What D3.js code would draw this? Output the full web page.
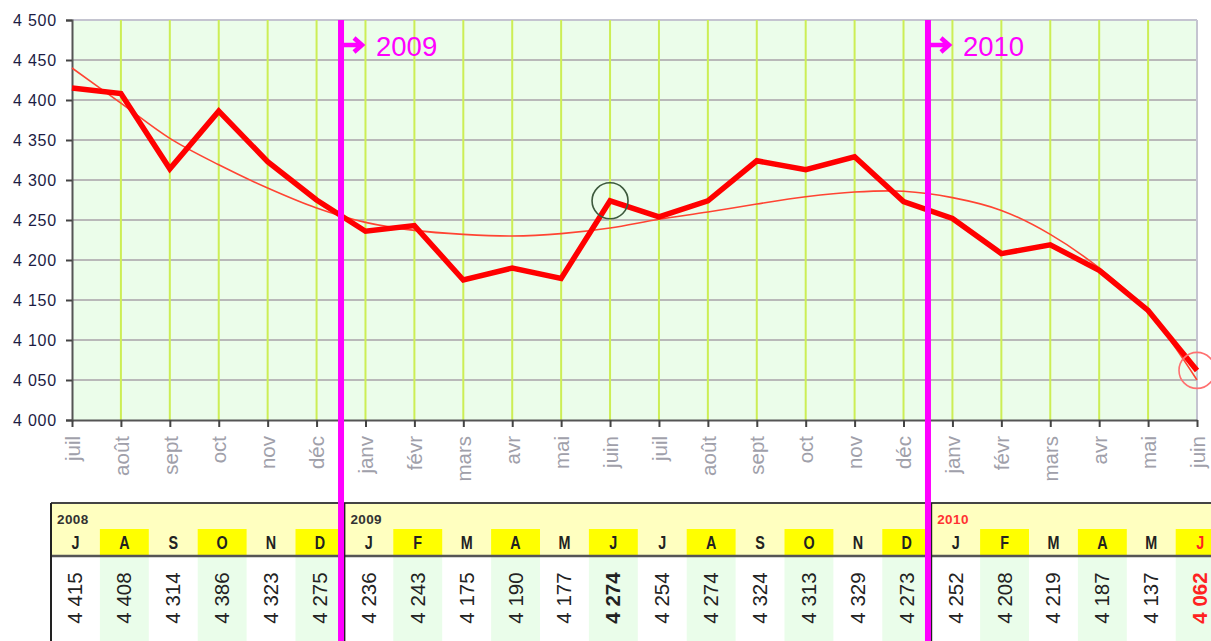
<!DOCTYPE html>
<html>
<head>
<meta charset="utf-8">
<script src="https://cdn.jsdelivr.net/npm/d3@7"></script>
<style>
  body { margin: 0; background: #fff; }
  svg { display: block; font-family: Arial, "Liberation Sans", sans-serif; }
</style>
</head>
<body>
<svg id="chart" width="1211" height="641"></svg>
<script>
// months shown on the x axis (juil 2008 -> juin 2010)
const months = ['juil','août','sept','oct','nov','déc','janv','févr','mars','avr','mai','juin',
                'juil','août','sept','oct','nov','déc','janv','févr','mars','avr','mai','juin'];
const letters = ['J','A','S','O','N','D','J','F','M','A','M','J',
                 'J','A','S','O','N','D','J','F','M','A','M','J'];
const values = [4415,4408,4314,4386,4323,4275,4236,4243,4175,4190,4177,4274,
                4254,4274,4324,4313,4329,4273,4252,4208,4219,4187,4137,4062];
// polynomial trend line
const trend = [4440,4396,4352,4319,4290,4265,4247,4237,4232,4230,4233,4240,
               4251,4260,4270,4279,4285,4286,4278,4262,4232,4190,4135,4050];
const years = ['2008','2009','2010'];
const yearStart = [0, 6, 18];
const yTicks = [4000,4050,4100,4150,4200,4250,4300,4350,4400,4450,4500];
const circled = [11, 23];

const svg = d3.select('#chart');
const fmt = d3.formatLocale({decimal: ',', thousands: ' ', grouping: [3], currency: ['', '']}).format(',d');

const x = d3.scaleLinear().domain([0, 23]).range([72, 1197]);
const y = d3.scaleLinear().domain([4000, 4500]).range([420, 20]);
const col = d3.scaleBand().domain(d3.range(24)).range([51, 51 + 24 * 48.9]);

// plot background
svg.append('rect').attr('x', 72).attr('y', 20).attr('width', 1197 - 72).attr('height', 400)
  .attr('fill', '#ebfdea');

// horizontal grid
svg.append('g').selectAll('line').data(yTicks.slice(1)).join('line')
  .attr('x1', 72).attr('x2', 1197).attr('y1', d => y(d)).attr('y2', d => y(d))
  .attr('stroke', d => d === 4500 ? '#c4c4d0' : '#b9b9b9').attr('stroke-width', 2);

// vertical grid
svg.append('g').selectAll('line').data(d3.range(1, 24)).join('line')
  .attr('x1', d => x(d)).attr('x2', d => x(d)).attr('y1', 20).attr('y2', 420)
  .attr('stroke', d => d === 23 ? '#c4c4d0' : '#ccee55').attr('stroke-width', 2);

// axes
const yAxis = svg.append('g').attr('transform', 'translate(72,0)')
  .call(d3.axisLeft(y).tickValues(yTicks).tickFormat(fmt).tickSize(6).tickPadding(9));
yAxis.select('.domain').attr('stroke', '#555').attr('stroke-width', 2);
yAxis.selectAll('.tick line').attr('stroke', '#444').attr('stroke-width', 2);
yAxis.selectAll('text').attr('font-size', 16).attr('letter-spacing', '0.8px')
  .attr('fill', '#1c1c44').attr('font-family', 'Arial, "Liberation Sans", sans-serif');

const xAxis = svg.append('g').attr('transform', 'translate(0,420)')
  .call(d3.axisBottom(x).tickValues(d3.range(24)).tickFormat(i => months[i]).tickSize(7).tickSizeOuter(0));
xAxis.select('.domain').attr('stroke', '#555').attr('stroke-width', 2);
xAxis.selectAll('.tick line').attr('stroke', '#444').attr('stroke-width', 2);
xAxis.selectAll('text')
  .attr('font-size', 20.5).attr('fill', '#a0a0aa').attr('font-family', 'Arial, "Liberation Sans", sans-serif')
  .attr('text-anchor', 'end').attr('dy', '0.35em')
  .attr('transform', 'translate(0,7) rotate(-90)').attr('x', -9).attr('y', 0);

// trend line
svg.append('path').datum(trend)
  .attr('fill', 'none').attr('stroke', '#ff4433').attr('stroke-width', 1.6)
  .attr('d', d3.line().x((d, i) => x(i)).y(d => y(d)).curve(d3.curveCatmullRom));

// data line
svg.append('path').datum(values)
  .attr('fill', 'none').attr('stroke', '#ff0000').attr('stroke-width', 5.5).attr('stroke-linejoin', 'miter')
  .attr('d', d3.line().x((d, i) => x(i)).y(d => y(d)));

// highlight circles
svg.append('g').selectAll('circle').data(circled).join('circle')
  .attr('cx', i => x(i)).attr('cy', i => y(values[i]))
  .attr('r', 18).attr('fill', 'none')
  .attr('stroke', i => i === 11 ? '#3d5a3d' : '#ff7070').attr('stroke-width', 1.6);

// ---- table ----
const table = svg.append('g');
const tTop = 503, tHead = 529, tRow = 556;
table.append('rect').attr('x', 51).attr('y', tTop).attr('width', 1211 - 51).attr('height', tRow - tTop)
  .attr('fill', '#ffffc0');
table.selectAll('rect.hl').data(d3.range(24).filter(i => i % 2 === 1)).join('rect')
  .attr('class', 'hl').attr('x', i => col(i)).attr('y', tHead)
  .attr('width', col.bandwidth()).attr('height', tRow - tHead).attr('fill', '#ffff00');
table.selectAll('rect.gr').data(d3.range(24).filter(i => i % 2 === 1)).join('rect')
  .attr('class', 'gr').attr('x', i => col(i)).attr('y', tRow)
  .attr('width', col.bandwidth()).attr('height', 641 - tRow).attr('fill', '#eafdea');

table.append('line').attr('x1', 51).attr('x2', 1211).attr('y1', tTop).attr('y2', tTop)
  .attr('stroke', '#444').attr('stroke-width', 2);
table.append('line').attr('x1', 51).attr('x2', 1211).attr('y1', tRow).attr('y2', tRow)
  .attr('stroke', '#555').attr('stroke-width', 2.5);
table.selectAll('line.sep').data(yearStart).join('line')
  .attr('class', 'sep').attr('x1', i => col(i)).attr('x2', i => col(i))
  .attr('y1', tTop).attr('y2', 641).attr('stroke', '#222').attr('stroke-width', 2);

table.selectAll('text.year').data(years).join('text')
  .attr('class', 'year').attr('x', (d, k) => col(yearStart[k]) + 6).attr('y', 524)
  .attr('font-size', 13.5).attr('font-weight', 'bold').attr('letter-spacing', '0.4px')
  .attr('fill', (d, k) => k === 2 ? '#ff3333' : '#333').text(d => d);

table.selectAll('text.mon').data(letters).join('text')
  .attr('class', 'mon')
  .attr('transform', (d, i) => `translate(${col(i) + col.bandwidth() / 2},549) scale(0.82,1.1)`)
  .attr('text-anchor', 'middle').attr('font-size', 17.5).attr('font-weight', 'bold')
  .attr('fill', (d, i) => i === 23 ? '#ff2222' : '#222').text(d => d);

table.selectAll('text.val').data(values).join('text')
  .attr('class', 'val')
  .attr('transform', (d, i) => `translate(${col(i) + col.bandwidth() / 2 + 7},598) rotate(-90)`)
  .attr('text-anchor', 'middle').attr('font-size', 20.5)
  .attr('font-weight', (d, i) => circled.includes(i) ? 'bold' : 'normal')
  .attr('fill', (d, i) => i === 23 ? '#ff2222' : '#222').text(d => fmt(d));

// ---- year markers ----
const breaks = [5.5, 17.5];
const marks = svg.append('g');
marks.selectAll('line').data(breaks).join('line')
  .attr('x1', d => x(d)).attr('x2', d => x(d)).attr('y1', 20).attr('y2', 641)
  .attr('stroke', '#ff00ff').attr('stroke-width', 6);
breaks.forEach((b, k) => {
  const bx = x(b);
  marks.append('path')
    .attr('d', `M${bx + 2},45 H${bx + 21} M${bx + 13},38 L${bx + 21},45 L${bx + 13},52`)
    .attr('fill', 'none').attr('stroke', '#ff00ff').attr('stroke-width', 4.5);
  marks.append('text').attr('x', bx + 35).attr('y', 56)
    .attr('font-size', 27.5).attr('fill', '#ff00ff').text(years[k + 1]);
});
</script>
</body>
</html>
